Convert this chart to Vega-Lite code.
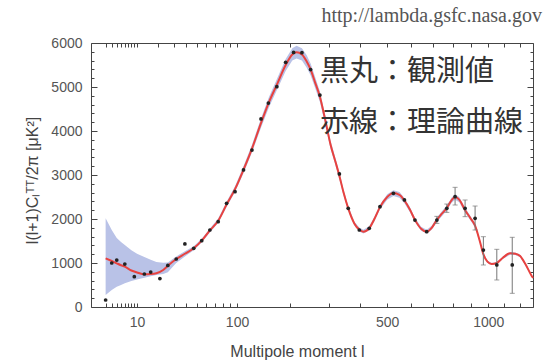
{
  "$schema": "https://vega.github.io/schema/vega-lite/v6.json",
  "width": 442,
  "height": 264,
  "autosize": {"type": "none"},
  "padding": {"left": 91, "top": 43, "right": 14, "bottom": 53},
  "background": "white",
  "config": {
    "view": {"stroke": "#444", "strokeWidth": 1},
    "font": "Liberation Sans",
    "axis": {"domain": false, "grid": false, "tickColor": "#444", "labelColor": "#555", "labelFont": "Liberation Sans", "labelFontSize": 14, "titleColor": "#444", "titleFont": "Liberation Sans", "titleFontWeight": "normal"}
  },
  "title": {"text": "http://lambda.gsfc.nasa.gov", "anchor": "end", "frame": "group", "font": "Liberation Serif", "fontSize": 20, "fontWeight": "normal", "color": "#555", "dx": 9, "offset": 10},
  "datasets": {
    "curve": [
      {"l": 2, "v": 1107, "lo": 273, "hi": 2015},
      {"l": 3, "v": 1045, "lo": 386, "hi": 1750},
      {"l": 4, "v": 993, "lo": 461, "hi": 1568},
      {"l": 5, "v": 950, "lo": 500, "hi": 1480},
      {"l": 6, "v": 917, "lo": 538, "hi": 1409},
      {"l": 8, "v": 830, "lo": 590, "hi": 1290},
      {"l": 10, "v": 785, "lo": 625, "hi": 1210},
      {"l": 13, "v": 743, "lo": 667, "hi": 1136},
      {"l": 16, "v": 748, "lo": 700, "hi": 1075},
      {"l": 19, "v": 766, "lo": 727, "hi": 1023},
      {"l": 23, "v": 840, "lo": 750, "hi": 1005},
      {"l": 26, "v": 935, "lo": 790, "hi": 1010},
      {"l": 32, "v": 1090, "lo": 1000, "hi": 1150},
      {"l": 39, "v": 1210, "lo": 1150, "hi": 1265},
      {"l": 47, "v": 1334, "lo": 1290, "hi": 1380},
      {"l": 55, "v": 1507, "lo": 1465, "hi": 1550},
      {"l": 64, "v": 1740, "lo": 1695, "hi": 1785},
      {"l": 74, "v": 1960, "lo": 1910, "hi": 2010},
      {"l": 85, "v": 2330, "lo": 2270, "hi": 2390},
      {"l": 97, "v": 2680, "lo": 2615, "hi": 2745},
      {"l": 110, "v": 3120, "lo": 3040, "hi": 3200},
      {"l": 124, "v": 3600, "lo": 3510, "hi": 3690},
      {"l": 140, "v": 4180, "lo": 4075, "hi": 4285},
      {"l": 155, "v": 4650, "lo": 4535, "hi": 4765},
      {"l": 171, "v": 5050, "lo": 4925, "hi": 5175},
      {"l": 190, "v": 5500, "lo": 5365, "hi": 5635},
      {"l": 205, "v": 5740, "lo": 5600, "hi": 5880},
      {"l": 215, "v": 5790, "lo": 5645, "hi": 5935},
      {"l": 228, "v": 5740, "lo": 5600, "hi": 5880},
      {"l": 240, "v": 5580, "lo": 5440, "hi": 5720},
      {"l": 250, "v": 5400, "lo": 5265, "hi": 5535},
      {"l": 262, "v": 5100, "lo": 4975, "hi": 5225},
      {"l": 275, "v": 4780, "lo": 4660, "hi": 4900},
      {"l": 290, "v": 4250, "lo": 4145, "hi": 4355},
      {"l": 305, "v": 3700, "lo": 3610, "hi": 3790},
      {"l": 320, "v": 3300, "lo": 3220, "hi": 3380},
      {"l": 332, "v": 2980, "lo": 2905, "hi": 3055},
      {"l": 345, "v": 2600, "lo": 2535, "hi": 2665},
      {"l": 360, "v": 2240, "lo": 2185, "hi": 2295},
      {"l": 380, "v": 1900, "lo": 1855, "hi": 1945},
      {"l": 397, "v": 1760, "lo": 1715, "hi": 1805},
      {"l": 411, "v": 1712, "lo": 1670, "hi": 1755},
      {"l": 432, "v": 1790, "lo": 1745, "hi": 1835},
      {"l": 450, "v": 1990, "lo": 1940, "hi": 2040},
      {"l": 472, "v": 2270, "lo": 2215, "hi": 2325},
      {"l": 500, "v": 2500, "lo": 2440, "hi": 2560},
      {"l": 525, "v": 2590, "lo": 2525, "hi": 2655},
      {"l": 550, "v": 2550, "lo": 2485, "hi": 2615},
      {"l": 571, "v": 2420, "lo": 2360, "hi": 2480},
      {"l": 595, "v": 2210, "lo": 2155, "hi": 2265},
      {"l": 617, "v": 1980, "lo": 1930, "hi": 2030},
      {"l": 645, "v": 1780, "lo": 1735, "hi": 1825},
      {"l": 671, "v": 1712, "lo": 1670, "hi": 1755},
      {"l": 695, "v": 1800, "lo": 1755, "hi": 1845},
      {"l": 720, "v": 1980, "lo": 1930, "hi": 2030},
      {"l": 745, "v": 2120, "lo": 2065, "hi": 2175},
      {"l": 770, "v": 2250, "lo": 2195, "hi": 2305},
      {"l": 795, "v": 2430, "lo": 2370, "hi": 2490},
      {"l": 813, "v": 2500, "lo": 2440, "hi": 2560},
      {"l": 835, "v": 2440, "lo": 2380, "hi": 2500},
      {"l": 867, "v": 2200, "lo": 2145, "hi": 2255},
      {"l": 895, "v": 2030, "lo": 1980, "hi": 2080},
      {"l": 923, "v": 1850, "lo": 1805, "hi": 1895},
      {"l": 950, "v": 1500, "lo": 1465, "hi": 1535},
      {"l": 971, "v": 1200, "lo": 1170, "hi": 1230},
      {"l": 995, "v": 1030, "lo": 1005, "hi": 1055},
      {"l": 1021, "v": 977, "lo": 955, "hi": 1000},
      {"l": 1052, "v": 1000, "lo": 975, "hi": 1025},
      {"l": 1090, "v": 1120, "lo": 1090, "hi": 1150},
      {"l": 1136, "v": 1220, "lo": 1190, "hi": 1250},
      {"l": 1170, "v": 1210, "lo": 1180, "hi": 1240},
      {"l": 1202, "v": 1160, "lo": 1130, "hi": 1190},
      {"l": 1240, "v": 960, "lo": 935, "hi": 985},
      {"l": 1281, "v": 705, "lo": 690, "hi": 720},
      {"l": 1290, "v": 660, "lo": 645, "hi": 675}
    ],
    "obs": [
      {"l": 2, "v": 159}, {"l": 3, "v": 1000}, {"l": 4, "v": 1068}, {"l": 6, "v": 977},
      {"l": 9, "v": 690}, {"l": 13, "v": 750}, {"l": 16, "v": 795}, {"l": 21, "v": 645},
      {"l": 26, "v": 945}, {"l": 32, "v": 1091}, {"l": 39, "v": 1432}, {"l": 47, "v": 1334},
      {"l": 55, "v": 1507}, {"l": 64, "v": 1750}, {"l": 74, "v": 1939}, {"l": 85, "v": 2356},
      {"l": 97, "v": 2621}, {"l": 110, "v": 3114}, {"l": 124, "v": 3568}, {"l": 140, "v": 4273},
      {"l": 154, "v": 4636}, {"l": 171, "v": 5007}, {"l": 190, "v": 5560}, {"l": 208, "v": 5785},
      {"l": 228, "v": 5780}, {"l": 250, "v": 5395}, {"l": 275, "v": 4818}, {"l": 332, "v": 3023},
      {"l": 360, "v": 2242}, {"l": 397, "v": 1750}, {"l": 432, "v": 1788}, {"l": 472, "v": 2280},
      {"l": 525, "v": 2584}, {"l": 571, "v": 2432}, {"l": 617, "v": 1977}, {"l": 671, "v": 1712},
      {"l": 720, "v": 1977}, {"l": 770, "v": 2242}, {"l": 813, "v": 2508}, {"l": 867, "v": 2242},
      {"l": 923, "v": 2015}, {"l": 971, "v": 1295}, {"l": 1052, "v": 955}, {"l": 1150, "v": 955}
    ],
    "err": [
      {"l": 720, "lo": 1900, "hi": 2060},
      {"l": 770, "lo": 2150, "hi": 2340},
      {"l": 813, "lo": 2318, "hi": 2720},
      {"l": 867, "lo": 2053, "hi": 2432},
      {"l": 923, "lo": 1750, "hi": 2295},
      {"l": 971, "lo": 955, "hi": 1598},
      {"l": 1052, "lo": 614, "hi": 1311},
      {"l": 1150, "lo": 311, "hi": 1584}
    ],
    "notes": [
      {"l": 275, "v": 5340, "t": "黒丸：観測値"},
      {"l": 275, "v": 4182, "t": "赤線：理論曲線"}
    ]
  },
  "layer": [
    {
      "data": {"name": "curve"},
      "mark": {"type": "area", "color": "#b9c2e7", "opacity": 1},
      "encoding": {
        "x": {"field": "l", "type": "quantitative", "scale": {"type": "pow", "exponent": 0.4, "domain": [0.51, 1290], "nice": false, "zero": false},
          "axis": {"orient": "bottom", "values": [2,3,4,5,6,7,8,9,10,20,30,40,50,60,70,80,90,100,200,300,400,500,600,700,800,900,1000,1100,1200],
            "format": "d",
            "labelExpr": "(datum.value==10||datum.value==100||datum.value==500||datum.value==1000) ? datum.label : ''",
            "tickSize": -4, "labelPadding": 12, "labelFlush": false, "labelOverlap": false,
            "title": "Multipole moment  l", "titleFontSize": 16, "titleX": 206, "titleY": 49, "titleBaseline": "alphabetic", "titleAnchor": null}},
        "y": {"field": "lo", "type": "quantitative", "scale": {"domain": [0, 6000], "nice": false},
          "axis": {"orient": "left", "values": [0,1000,2000,3000,4000,5000,6000], "format": "d", "tickSize": -6, "labelPadding": 15, "labelOverlap": false, "labelFlush": false,
            "title": "l(l+1)Cₗᵀᵀ/2π [μK²]", "titleFontSize": 16, "titleX": -59, "titleY": 137, "titleBaseline": "middle", "titleAngle": -90, "titleAlign": "center"}},
        "y2": {"field": "hi"}
      }
    },
    {
      "data": {"name": "curve"},
      "mark": {"type": "line", "color": "#e8423f", "strokeWidth": 2, "interpolate": "monotone"},
      "encoding": {
        "x": {"field": "l", "type": "quantitative", "scale": {"type": "pow", "exponent": 0.4, "domain": [0.51, 1290], "nice": false, "zero": false},
          "axis": {"orient": "top", "values": [2,3,4,5,6,7,8,9,10,20,30,40,50,60,70,80,90,100,200,300,400,500,600,700,800,900,1000,1100,1200], "tickSize": -4, "labels": false, "title": null}},
        "y": {"field": "v", "type": "quantitative", "scale": {"domain": [0, 6000], "nice": false},
          "axis": {"orient": "right", "values": [0,1000,2000,3000,4000,5000,6000], "tickSize": -6, "labels": false, "title": null}}
      }
    },
    {
      "data": {"name": "err"},
      "mark": {"type": "errorbar", "ticks": {"size": 5, "color": "#777"}, "rule": {"color": "#777", "strokeWidth": 1}},
      "encoding": {
        "x": {"field": "l", "type": "quantitative", "axis": null},
        "y": {"field": "lo", "type": "quantitative", "axis": null},
        "y2": {"field": "hi"}
      }
    },
    {
      "data": {"name": "obs"},
      "mark": {"type": "circle", "size": 14, "color": "#222", "opacity": 1},
      "encoding": {
        "x": {"field": "l", "type": "quantitative", "axis": null},
        "y": {"field": "v", "type": "quantitative",
          "axis": {"orient": "left", "values": [200,400,600,800,1200,1400,1600,1800,2200,2400,2600,2800,3200,3400,3600,3800,4200,4400,4600,4800,5200,5400,5600,5800], "tickSize": -3, "labels": false, "title": null}}
      }
    },
    {
      "data": {"name": "notes"},
      "mark": {"type": "text", "align": "left", "baseline": "middle", "font": "Noto Sans CJK JP", "fontSize": 29, "color": "#333"},
      "encoding": {
        "x": {"field": "l", "type": "quantitative", "axis": null},
        "y": {"field": "v", "type": "quantitative",
          "axis": {"orient": "right", "values": [200,400,600,800,1200,1400,1600,1800,2200,2400,2600,2800,3200,3400,3600,3800,4200,4400,4600,4800,5200,5400,5600,5800], "tickSize": -3, "labels": false, "title": null}},
        "text": {"field": "t"}
      }
    }
  ],
  "resolve": {"axis": {"x": "independent", "y": "independent"}}
}
